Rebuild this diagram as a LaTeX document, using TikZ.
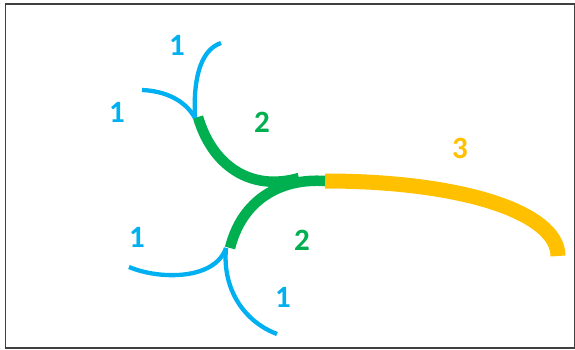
\documentclass[tikz,border=0pt]{standalone}
\usepackage{fontspec}
\setmainfont{Carlito}
\definecolor{cblue}{HTML}{00B0F0}
\definecolor{cgreen}{HTML}{00B050}
\definecolor{cyellow}{HTML}{FFC000}
\definecolor{cframe}{HTML}{404040}
\begin{document}
\begin{tikzpicture}[x=1pt,y=-1pt,
  lbl/.style={font=\fontsize{31}{31}\selectfont\bfseries, inner sep=0pt},
  bluebr/.style={draw=cblue, line width=4.3pt},
  greenbr/.style={draw=cgreen, line width=10.5pt},
  yellowbr/.style={draw=cyellow, line width=15pt}]
\useasboundingbox (0,0) rectangle (575,350);
\draw[cframe, line width=1.5pt] (5.5,4) rectangle (574.5,348);
% junction coordinates
\coordinate (jtop) at (195,118);
\coordinate (gtop) at (198,117);
\coordinate (jbot) at (226,248);
\coordinate (gbot) at (230,248);
\coordinate (jmid) at (325,181);
\coordinate (jmerge) at (299,178);
% yellow trunk
\draw[yellowbr] (jmid) .. controls (460,181) and (558,212) .. (558,256);
% green branches
\draw[greenbr] (jmid) .. controls (280,178) and (242,200) .. (gbot);
\draw[greenbr] (gtop) .. controls (212,165) and (250,192) .. (jmerge);
% blue twigs
\draw[bluebr] (221,43) .. controls (200,50) and (193,80) .. (jtop);
\draw[bluebr] (142,90) .. controls (165,91) and (185,100) .. (jtop);
\draw[bluebr] (129,267) .. controls (160,280) and (215,280) .. (jbot);
\draw[bluebr] (jbot) .. controls (222,290) and (245,322) .. (277,334);
% labels
\node[lbl, text=cblue] (l1) at (177,45) {1};
\node[lbl, text=cblue] (l2) at (117,112) {1};
\node[lbl, text=cgreen] (l3) at (262,122) {2};
\node[lbl, text=cyellow] (l4) at (460,148) {3};
\node[lbl, text=cblue] (l5) at (137,237) {1};
\node[lbl, text=cgreen] (l6) at (302,240) {2};
\node[lbl, text=cblue] (l7) at (283,297) {1};
\end{tikzpicture}
\end{document}
